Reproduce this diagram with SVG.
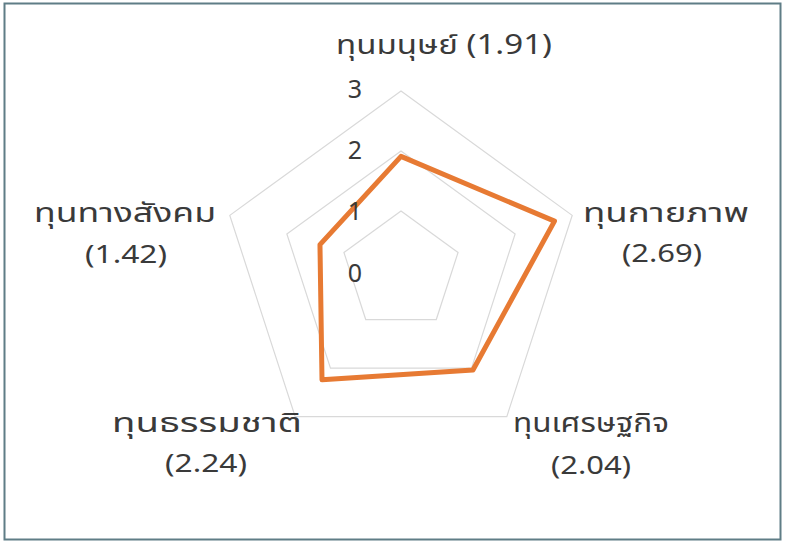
<svg xmlns="http://www.w3.org/2000/svg" width="789" height="541" viewBox="0 0 789 541">
<style>
.grid{fill:none;stroke:#d9d9d9;stroke-width:1.2}
.lbl{font-family:Tahoma,"Noto Sans Thai","Noto Sans",sans-serif;font-size:27px;fill:#3a3a3a;text-anchor:middle}
.num{font-family:Tahoma,"Noto Sans","DejaVu Sans",sans-serif;font-size:26px;fill:#3a3a3a;text-anchor:middle}
.tick{font-family:Tahoma,"Noto Sans","DejaVu Sans",sans-serif;font-size:25px;fill:#3a3a3a;text-anchor:end}
</style>
<rect x="0" y="0" width="789" height="541" fill="#ffffff"/>
<rect x="4.5" y="3.5" width="776" height="536" fill="none" stroke="#5f7d86" stroke-width="2"/>
<g id="grid">
<polygon class="grid" points="401,211 458.06,252.46 436.27,319.54 365.73,319.54 343.94,252.46"/>
<polygon class="grid" points="401,151 515.13,233.92 471.53,368.08 330.47,368.08 286.87,233.92"/>
<polygon class="grid" points="401,91 572.19,215.38 506.8,416.62 295.2,416.62 229.81,215.38"/>
</g>
<g id="connectors">
<polygon points="401,156.4 554.5,221.12 472.95,370.02 322,379.73 319.97,244.67" fill="none" stroke="#E77A33" stroke-width="5" stroke-linejoin="round"/>
</g>
<g id="ticks">
<text class="tick" x="362" y="98">3</text>
<text class="tick" x="362" y="159">2</text>
<text class="tick" x="362" y="220">1</text>
<text class="tick" x="362" y="282">0</text>
</g>
<g id="node-human"><text class="lbl" x="444" y="54" textLength="216" lengthAdjust="spacingAndGlyphs">ทุนมนุษย์ (1.91)</text></g>
<g id="node-physical"><text class="lbl" x="666" y="222" textLength="166" lengthAdjust="spacingAndGlyphs">ทุนกายภาพ</text><text class="num" x="662" y="262" textLength="80" lengthAdjust="spacingAndGlyphs">(2.69)</text></g>
<g id="node-economic"><text class="lbl" x="591" y="432" textLength="156" lengthAdjust="spacingAndGlyphs">ทุนเศรษฐกิจ</text><text class="num" x="591" y="474" textLength="80" lengthAdjust="spacingAndGlyphs">(2.04)</text></g>
<g id="node-natural"><text class="lbl" x="207" y="432" textLength="190" lengthAdjust="spacingAndGlyphs">ทุนธรรมชาติ</text><text class="num" x="206" y="472" textLength="82" lengthAdjust="spacingAndGlyphs">(2.24)</text></g>
<g id="node-social"><text class="lbl" x="125" y="222" textLength="182" lengthAdjust="spacingAndGlyphs">ทุนทางสังคม</text><text class="num" x="126" y="263" textLength="82" lengthAdjust="spacingAndGlyphs">(1.42)</text></g>
</svg>
